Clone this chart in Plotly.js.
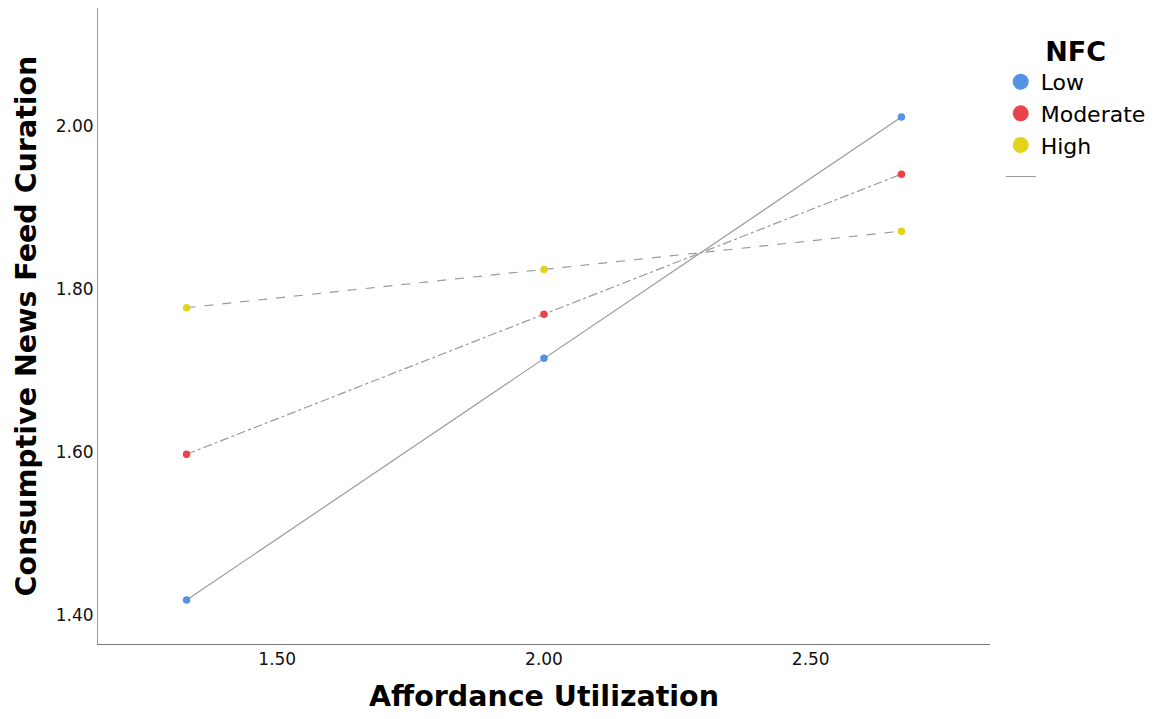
<!DOCTYPE html>
<html>
<head>
<meta charset="utf-8">
<script src="https://cdn.plot.ly/plotly-3.0.1.min.js"></script>
<style>html,body{margin:0;padding:0;background:#fff;}#chart{width:1164px;height:719px;}</style>
</head>
<body>
<div id="chart"></div>
<script>
// Data
const affordance = [1.33, 2.00, 2.67];
const groups = ["Low", "Moderate", "High"];
const lowValues = [1.418, 1.715, 2.011];
const moderateValues = [1.597, 1.769, 1.941];
const highValues = [1.777, 1.824, 1.871];
const xTicks = [1.50, 2.00, 2.50];
const yTicks = [1.40, 1.60, 1.80, 2.00];

const seriesValues = [lowValues, moderateValues, highValues];
const colors = ["#5592e3", "#e8444b", "#e2d31b"];
const dashes = ["solid", "dashdot", "dash"];
const lineColor = "#9a9a9a";

const traces = [];
// interpolation lines (gray)
seriesValues.forEach((vals, i) => {
  traces.push({
    x: affordance, y: vals, type: "scatter", mode: "lines",
    line: {color: lineColor, width: 1.2, dash: dashes[i]},
    showlegend: false, hoverinfo: "skip"
  });
});
// colored points
seriesValues.forEach((vals, i) => {
  traces.push({
    x: affordance, y: vals, type: "scatter", mode: "markers",
    marker: {color: colors[i], size: 7.5},
    name: groups[i], showlegend: false
  });
});
// legend entries
groups.forEach((g, i) => {
  traces.push({
    x: [null], y: [null], type: "scatter", mode: "markers",
    marker: {color: colors[i], size: 22},
    name: g, showlegend: true
  });
});
traces.push({
  x: [null], y: [null], type: "scatter", mode: "lines",
  line: {color: lineColor, width: 1.2},
  name: " ", showlegend: true
});

const layout = {
  width: 1164, height: 719,
  margin: {l: 98, r: 174, t: 8, b: 75},
  paper_bgcolor: "#fff", plot_bgcolor: "#fff",
  font: {family: "DejaVu Sans, sans-serif", color: "#111"},
  xaxis: {
    range: [1.164, 2.836],
    tickvals: xTicks, ticktext: xTicks.map(v => v.toFixed(2)),
    showgrid: false, zeroline: false, ticks: "",
    showline: true, linecolor: "#7a7a7a", linewidth: 1,
    tickfont: {size: 17, color: "#111"},
    title: {text: "Affordance Utilization", font: {size: 28.5, family: "DejaVu Sans, sans-serif", weight: "bold", color: "#000"}, standoff: 17},
    automargin: false
  },
  yaxis: {
    range: [1.364, 2.145],
    tickvals: yTicks, ticktext: yTicks.map(v => v.toFixed(2)),
    showgrid: false, zeroline: false, ticks: "",
    showline: true, linecolor: "#9a9a9a", linewidth: 1,
    tickfont: {size: 17, color: "#111"},
    title: {text: "Consumptive News Feed Curation", font: {size: 28.5, family: "DejaVu Sans, sans-serif", weight: "bold", color: "#000"}, standoff: 10},
    automargin: false
  },
  legend: {
    x: 1.012, y: 0.972, xanchor: "left", yanchor: "top",
    font: {size: 22, color: "#000"},
    title: {text: "NFC", side: "top center", font: {size: 27, weight: "bold", color: "#000"}},
    itemsizing: "trace", tracegroupgap: 0,
    bgcolor: "rgba(0,0,0,0)"
  },
  showlegend: true
};

Plotly.newPlot("chart", traces, layout, {displayModeBar: false, staticPlot: true});
</script>
</body>
</html>
